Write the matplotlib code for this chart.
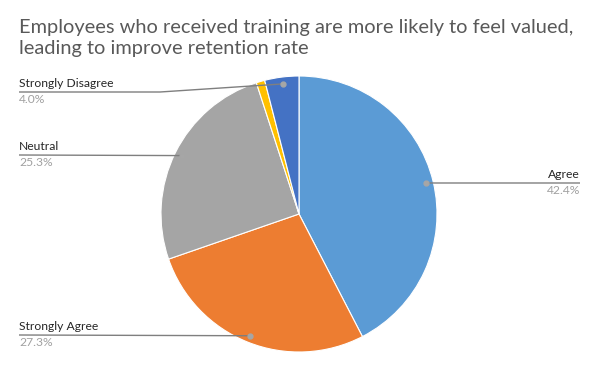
import numpy as np
import matplotlib.pyplot as plt

plt.rcParams['font.family'] = ['Lato', 'DejaVu Sans']

labels = ['Agree', 'Strongly Agree', 'Neutral', 'Disagree', 'Strongly Disagree']
values = [42.4, 27.3, 25.3, 1.0, 4.0]
colors = ['#5B9BD5', '#ED7D31', '#A5A5A5', '#FFC000', '#4472C4']
show_label = [True, True, True, False, True]

# where the label text sits (figure pixels from top-left) and how it is aligned
label_pos = {
    'Agree': (580, 183, 'right'),
    'Strongly Agree': (19, 335, 'left'),
    'Neutral': (19, 155, 'left'),
    'Strongly Disagree': (19, 92, 'left'),
}

W, H = 600, 371
cx, cy, R = 299, 214, 138


def px(x, y):
    # figure pixel (top-left origin) -> data coords with pie radius 1
    return (x - cx) / R, (cy - y) / R


fig = plt.figure(figsize=(6, 3.71), dpi=100)
ax = fig.add_axes([0, 0, 1, 1])

wedges, _ = ax.pie(values, colors=colors, startangle=90, counterclock=False,
                   radius=1, wedgeprops=dict(edgecolor='white', linewidth=0.8))
ax.set_aspect('auto')
ax.set_xlim(-cx / R, (W - cx) / R)
ax.set_ylim(-(H - cy) / R, cy / R)
ax.axis('off')

for w, lab, show, v in zip(wedges, labels, show_label, values):
    if not show:
        continue
    mid = np.deg2rad((w.theta1 + w.theta2) / 2)
    dx, dy = 0.95 * np.cos(mid), 0.95 * np.sin(mid)
    tx, ty, ha = label_pos[lab]
    lx, ly = px(tx, ty)
    if lab == 'Strongly Disagree':
        bend = px(tx + 141, ty)[0]
        xs, ys = [lx, bend, dx], [ly, ly, dy]
    else:
        xs, ys = [lx, dx], [ly, dy]
    ax.plot(xs, ys, color='#7F7F7F', lw=1, solid_capstyle='butt')
    ax.plot(dx, dy, 'o', color='#A6A6A6', ms=3.5, mec='#A6A6A6')
    ax.text(lx, px(tx, ty - 3)[1], lab, ha=ha, va='bottom', fontsize=8.7,
            color='#262626')
    ax.text(lx, px(tx, ty + 2)[1], f'{v:.1f}%', ha=ha, va='top', fontsize=8.7,
            color='#A0A0A0')

fig.text(19 / W, 1 - 19 / H,
         'Employees who received training are more likely to feel valued,\nleading to improve retention rate',
         ha='left', va='top', fontsize=14.4, color='#595959', linespacing=1.3)

fig.savefig('out.png', dpi=100)
